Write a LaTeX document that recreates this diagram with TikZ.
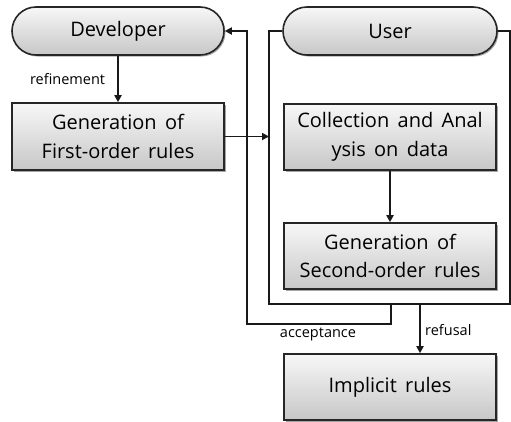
\documentclass[tikz,border=0pt]{standalone}
\usepackage{fontspec}
\setmainfont{Open Sans}[WordSpace=1.6]
\usetikzlibrary{arrows.meta,shadows,calc,shapes.misc}
\tikzset{
  base/.style={draw=black!85, line width=1.6pt, top color=white!97!black, bottom color=white!78!black,
    drop shadow={shadow xshift=1.5pt, shadow yshift=-1.5pt, opacity=0.35, fill=black},
    font=\fontsize{20}{28.5}\selectfont, align=center, inner sep=0pt},
  pill/.style={base, rounded rectangle, minimum width=212pt, minimum height=48pt},
  procbox/.style={base, rectangle, minimum width=212pt, minimum height=66pt},
  conn/.style={draw=black!90, line width=1.9pt},
  arr/.style={conn, -{Triangle[length=7pt,width=7pt]}},
  lbl/.style={font=\fontsize{14.5}{17}\selectfont, inner sep=0pt},
}
\begin{document}
\begin{tikzpicture}[x=1pt,y=-1pt]
\useasboundingbox (0,0) rectangle (511,421);
\fill[white] (0,0) rectangle (511,421);
\node[pill] (dev) at (118,31) {Developer};
\node[procbox, minimum height=67pt] (gen1) at (118,136.5) {Generation of\\First-order rules};
\node[pill, minimum width=214pt] (user) at (390,31) {User};
\node[procbox] (coll) at (390,137) {Collection and Anal\\ysis on data};
\node[procbox] (gen2) at (390,256) {Generation of\\Second-order rules};
\node[procbox] (impl) at (390,387) {Implicit rules};

\coordinate (ftl) at (269,31);
\coordinate (fbl) at (269,304);
\coordinate (fbr) at (510,304);
\coordinate (ftr) at (510,31);
\draw[conn] (user.west) -- (ftl) -- (fbl) -- (fbr) -- (ftr) -- (user.east);

\draw[arr] (dev.south) -- node[lbl, left=12pt] {refinement} (gen1.north);
\draw[arr] (gen1.east) -- (gen1.east -| ftl);
\draw[arr] (coll.south) -- (gen2.north);

\coordinate (acc) at (391,304);
\coordinate (accb) at (391,324);
\coordinate (accl) at (247,324);
\draw[arr] (acc) -- (accb) -- (accl) -- (accl |- dev.east) -- (dev.east);
\node[lbl] (acclbl) at (318,334) {acceptance};

\coordinate (ref) at (420,304);
\draw[arr] (ref) -- (ref |- impl.north);
\node[lbl, anchor=west] (reflbl) at (425,330) {refusal};
\end{tikzpicture}
\end{document}
